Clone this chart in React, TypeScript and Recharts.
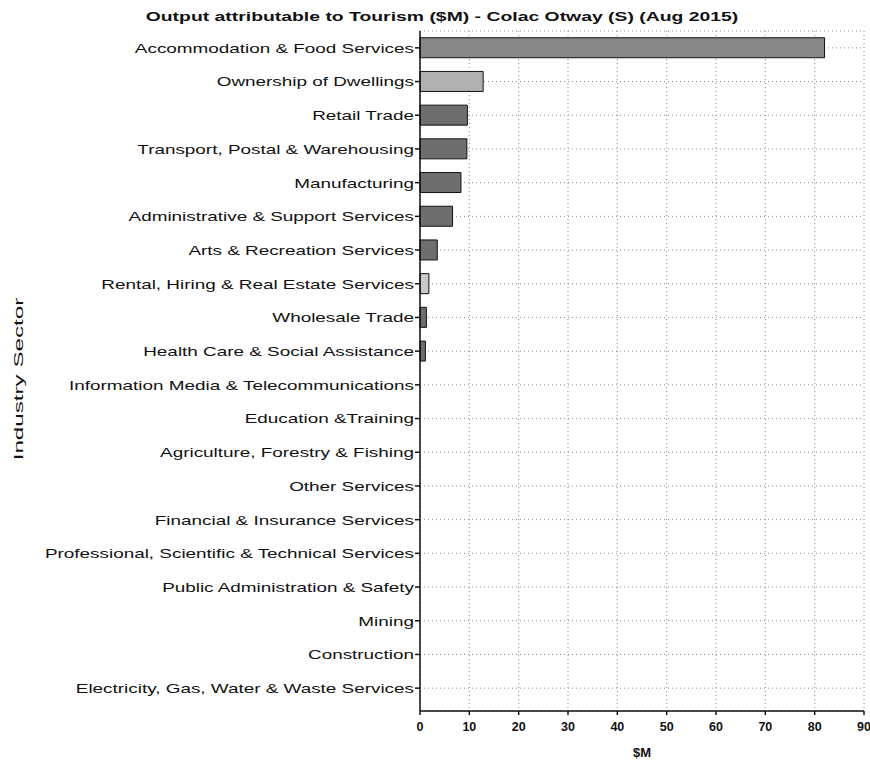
import React from 'react';
import { BarChart, Bar, XAxis, YAxis, CartesianGrid, Cell, Label } from 'recharts';

const sectors = [
  'Accommodation & Food Services',
  'Ownership of Dwellings',
  'Retail Trade',
  'Transport, Postal & Warehousing',
  'Manufacturing',
  'Administrative & Support Services',
  'Arts & Recreation Services',
  'Rental, Hiring & Real Estate Services',
  'Wholesale Trade',
  'Health Care & Social Assistance',
  'Information Media & Telecommunications',
  'Education &Training',
  'Agriculture, Forestry & Fishing',
  'Other Services',
  'Financial & Insurance Services',
  'Professional, Scientific & Technical Services',
  'Public Administration & Safety',
  'Mining',
  'Construction',
  'Electricity, Gas, Water & Waste Services',
];

const outputValues = [82, 12.8, 9.6, 9.5, 8.3, 6.6, 3.5, 1.8, 1.3, 1.1, 0, 0, 0, 0, 0, 0, 0, 0, 0, 0];

const xTicks = [0, 10, 20, 30, 40, 50, 60, 70, 80, 90];

const barColors = ['#878787', '#b0b0b0', '#6e6e6e', '#6e6e6e', '#6e6e6e', '#6e6e6e', '#6e6e6e', '#c8c8c8', '#6e6e6e', '#6e6e6e'];

const data = sectors.map((name, i) => ({ name, value: outputValues[i] }));

const font = '"Liberation Sans", Arial, sans-serif';

// the source is a scan that is stretched sideways, so labels are widened
const SectorTick = ({ x, y, payload }: any) => (
  <text
    transform={`translate(${x},${y}) scale(1.4,1)`}
    textAnchor="end"
    dy="0.36em"
    fill="#111"
    fontSize={13.5}
    fontFamily={font}
  >
    {payload.value}
  </text>
);

export default function App() {
  return (
    <div style={{ position: 'absolute', left: 0, top: 0, width: 870, height: 764, background: '#fff', fontFamily: font, overflow: 'hidden' }}>
      <div
        style={{
          position: 'absolute', left: 0, top: 9, width: 884, textAlign: 'center',
          fontWeight: 'bold', fontSize: 13, color: '#111', transform: 'scaleX(1.49)', transformOrigin: '442px 0',
        }}
      >
        Output attributable to Tourism ($M) - Colac Otway (S) (Aug 2015)
      </div>
      <div
        style={{
          position: 'absolute', left: 20 - 100, top: 379 - 9, width: 200, textAlign: 'center',
          fontSize: 13, color: '#111', transform: 'rotate(-90deg) scaleX(1.86)', transformOrigin: '100px 9px',
        }}
      >
        Industry Sector
      </div>
      <BarChart
        width={870}
        height={764}
        data={data}
        layout="vertical"
        margin={{ top: 31, right: 6, bottom: 8, left: 0 }}
        barCategoryGap="20%"
      >
        <CartesianGrid stroke="#8a8a8a" strokeDasharray="1 3" />
        <XAxis
          type="number"
          domain={[0, 90]}
          ticks={xTicks}
          interval={0}
          stroke="#111"
          strokeWidth={1.5}
          tickSize={4}
          tickMargin={7}
          height={45}
          tick={{ fill: '#111', fontSize: 12.5, fontWeight: 'bold', fontFamily: font }}
        >
          <Label value="$M" position="insideBottom" offset={-1} fill="#111" fontSize={13} fontWeight="bold" fontFamily={font} />
        </XAxis>
        <YAxis
          type="category"
          dataKey="name"
          width={420}
          interval={0}
          padding={{ top: 0, bottom: 6 }}
          stroke="#111"
          strokeWidth={1.5}
          tickSize={5}
          tickMargin={1}
          tick={<SectorTick />}
        />
        <Bar dataKey="value" stroke="#111" strokeWidth={1} isAnimationActive={false}>
          {data.map((d, i) => (
            <Cell key={d.name} fill={barColors[i] || '#6e6e6e'} />
          ))}
        </Bar>
      </BarChart>
    </div>
  );
}
